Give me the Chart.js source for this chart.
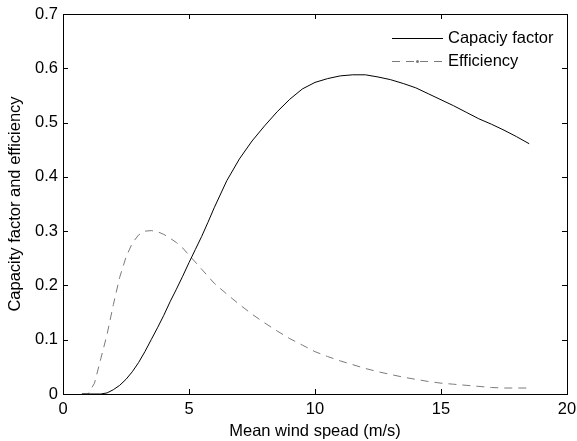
<!DOCTYPE html>
<html>
<head>
<meta charset="utf-8">
<script src="https://cdn.jsdelivr.net/npm/chart.js@4"></script>
<style>
  html, body { margin: 0; padding: 0; background: #fff; }
  #wrap { width: 577px; height: 441px; }
</style>
</head>
<body>
<div id="wrap"><canvas id="chart" width="577" height="441"></canvas></div>
<script>
// Mean wind speed (m/s)
const capSpeed = [0.75, 1.0, 1.5, 1.75, 2.0, 2.25, 2.5, 2.75, 3.0, 3.25, 3.5, 3.75, 4.0, 4.25, 4.5, 4.75, 5.0, 5.25, 5.5, 5.75, 6.0, 6.5, 7.0, 7.5, 8.0, 8.5, 9.0, 9.5, 10.0, 10.5, 11.0, 11.5, 12.0, 12.5, 13.0, 13.5, 14.0, 14.5, 15.0, 15.5, 16.0, 16.5, 17.0, 17.5, 18.0, 18.5];
const capacityFactor = [0, 0, 0, 0.002, 0.008, 0.016, 0.027, 0.041, 0.058, 0.078, 0.1, 0.122, 0.145, 0.17, 0.193, 0.217, 0.242, 0.266, 0.29, 0.316, 0.343, 0.393, 0.433, 0.466, 0.494, 0.52, 0.543, 0.562, 0.574, 0.581, 0.586, 0.588, 0.588, 0.584, 0.579, 0.572, 0.564, 0.553, 0.542, 0.531, 0.519, 0.507, 0.497, 0.486, 0.474, 0.461];

const effSpeed = [0.75, 1.0, 1.25, 1.5, 1.75, 2.0, 2.25, 2.5, 2.75, 3.0, 3.25, 3.5, 3.75, 4.0, 4.25, 4.5, 4.75, 5.0, 5.5, 6.0, 6.5, 7.0, 7.5, 8.0, 8.5, 9.0, 9.5, 10.0, 10.5, 11.0, 11.5, 12.0, 12.5, 13.0, 13.5, 14.0, 14.5, 15.0, 15.5, 16.0, 16.5, 17.0, 17.5, 18.0, 18.5];
const efficiency = [0, 0, 0.02, 0.065, 0.11, 0.165, 0.215, 0.252, 0.278, 0.293, 0.3, 0.301, 0.299, 0.294, 0.287, 0.279, 0.269, 0.256, 0.23, 0.204, 0.184, 0.165, 0.147, 0.131, 0.116, 0.102, 0.09, 0.078, 0.069, 0.061, 0.054, 0.047, 0.041, 0.036, 0.031, 0.027, 0.023, 0.02, 0.018, 0.016, 0.014, 0.012, 0.011, 0.011, 0.011];

const xTicks = [0, 5, 10, 15, 20];
const yTicks = [0, 0.1, 0.2, 0.3, 0.4, 0.5, 0.6, 0.7];

const FONT = 'Liberation Sans, Arial, sans-serif';
const FONT_SIZE = 16.5;

const toPoints = (xs, ys) => xs.map((x, i) => ({ x: x, y: ys[i] }));

// Boxed axes with inward ticks on all four sides, plus a borderless legend
const boxAxes = {
    id: 'boxAxes',
    afterDraw(chart) {
        const { ctx, chartArea: a, scales } = chart;
        const len = 5;
        ctx.save();
        ctx.strokeStyle = '#000';
        ctx.lineWidth = 1;
        ctx.strokeRect(a.left + 0.5, a.top + 0.5, a.right - a.left, a.bottom - a.top);
        ctx.beginPath();
        xTicks.forEach(v => {
            const px = Math.round(scales.x.getPixelForValue(v)) + 0.5;
            ctx.moveTo(px, a.bottom); ctx.lineTo(px, a.bottom - len);
            ctx.moveTo(px, a.top); ctx.lineTo(px, a.top + len);
        });
        yTicks.forEach(v => {
            const py = Math.round(scales.y.getPixelForValue(v)) + 0.5;
            ctx.moveTo(a.left, py); ctx.lineTo(a.left + len, py);
            ctx.moveTo(a.right, py); ctx.lineTo(a.right - len, py);
        });
        ctx.stroke();

        // legend
        const ds = chart.data.datasets;
        const lx0 = 392, lx1 = 443, tx = 448;
        const rows = [38, 61];
        ctx.font = FONT_SIZE + 'px ' + FONT;
        ctx.textBaseline = 'middle';
        ds.forEach((d, i) => {
            const y = rows[i] + 0.5;
            ctx.strokeStyle = d.borderColor;
            ctx.setLineDash(d.borderDash || []);
            ctx.beginPath();
            ctx.moveTo(lx0, y); ctx.lineTo(lx1, y);
            ctx.stroke();
            ctx.setLineDash([]);
            if (d.borderDash) {
                ctx.fillStyle = d.borderColor;
                ctx.beginPath();
                ctx.arc((lx0 + lx1) / 2, y, 1.5, 0, Math.PI * 2);
                ctx.fill();
            }
            ctx.fillStyle = '#000';
            ctx.fillText(d.label, tx, rows[i]);
        });
        ctx.restore();
    }
};

new Chart(document.getElementById('chart'), {
    type: 'scatter',
    data: {
        datasets: [
            {
                label: 'Capaciy factor',
                data: toPoints(capSpeed, capacityFactor),
                showLine: true,
                borderColor: '#000',
                borderWidth: 1,
                pointRadius: 0,
                tension: 0
            },
            {
                label: 'Efficiency',
                data: toPoints(effSpeed, efficiency),
                showLine: true,
                borderColor: '#7a7a7a',
                borderWidth: 1,
                borderDash: [8, 6],
                pointRadius: 0,
                tension: 0
            }
        ]
    },
    options: {
        responsive: false,
        animation: false,
        layout: { padding: { left: 6, top: 14, right: 10, bottom: 0 } },
        plugins: {
            legend: { display: false },
            tooltip: { enabled: false }
        },
        scales: {
            x: {
                type: 'linear',
                min: 0,
                max: 20,
                afterBuildTicks: s => { s.ticks = xTicks.map(v => ({ value: v })); },
                afterFit: s => { s.height = 47; s.paddingLeft = 0; s.paddingRight = 0; },
                grid: { display: false, drawTicks: false },
                border: { display: false },
                ticks: { color: '#000', font: { family: FONT, size: FONT_SIZE }, padding: 6, maxRotation: 0 },
                title: { display: true, text: 'Mean wind spead (m/s)', color: '#000', font: { family: FONT, size: FONT_SIZE }, padding: { top: 0, bottom: 0 } }
            },
            y: {
                type: 'linear',
                min: 0,
                max: 0.7,
                afterBuildTicks: s => { s.ticks = yTicks.map(v => ({ value: v })); },
                afterFit: s => { s.width = 57; s.paddingTop = 0; s.paddingBottom = 0; },
                grid: { display: false, drawTicks: false },
                border: { display: false },
                ticks: {
                    color: '#000', font: { family: FONT, size: FONT_SIZE }, padding: 5,
                    callback: v => (v === 0 ? '0' : v.toFixed(1))
                },
                title: { display: true, text: 'Capacity factor and efficiency', color: '#000', font: { family: FONT, size: FONT_SIZE }, padding: { top: 0, bottom: 4 } }
            }
        }
    },
    plugins: [boxAxes]
});
</script>
</body>
</html>
